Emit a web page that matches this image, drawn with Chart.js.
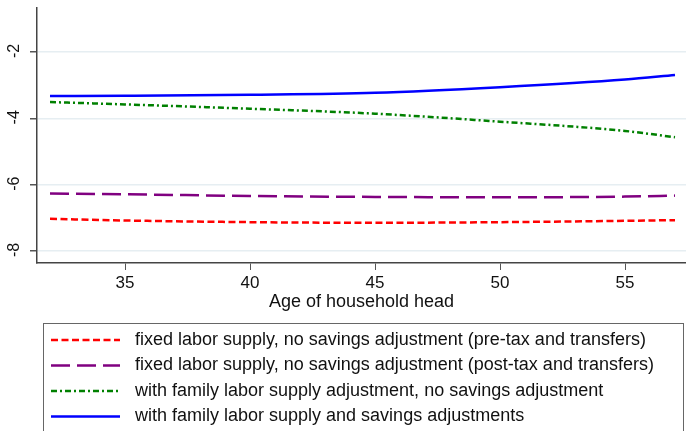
<!DOCTYPE html>
<html>
<head>
<meta charset="utf-8">
<script src="https://cdn.jsdelivr.net/npm/chart.js@4"></script>
<style>
  html, body { margin: 0; padding: 0; background: #fff; }
  #wrap { width: 686px; height: 431px; position: relative; }
</style>
</head>
<body>
<div id="wrap"><canvas id="chart" width="686" height="431"></canvas></div>
<script>
// ------------------------ Datos ------------------------
const edades = [32, 35, 40, 45, 50, 55, 57];
const preTax = [-7.03, -7.08, -7.13, -7.15, -7.13, -7.09, -7.07];
const postTax = [-6.27, -6.29, -6.34, -6.37, -6.38, -6.36, -6.33];
const laborAdj = [-3.51, -3.58, -3.71, -3.86, -4.10, -4.38, -4.57];
const laborSavAdj = [-3.33, -3.32, -3.29, -3.23, -3.06, -2.83, -2.69];

const etiquetas = [
  "fixed labor supply, no savings adjustment (pre-tax and transfers)",
  "fixed labor supply, no savings adjustment (post-tax and transfers)",
  "with family labor supply adjustment, no savings adjustment",
  "with family labor supply and savings adjustments"
];
const yTicks = [-2, -4, -6, -8];
const xTicks = [35, 40, 45, 50, 55];

const fuente = "'Liberation Sans', Arial, sans-serif";
const pts = (ys) => edades.map((x, i) => ({ x, y: ys[i] }));

const estilos = [
  { color: "#ff0000", dash: [7, 3.5] },
  { color: "#800080", dash: [19, 7] },
  { color: "#008000", dash: [6, 3, 2, 3] },
  { color: "#0000ff", dash: [] }
];

// ------------------------ Plugins ------------------------
// etiquetas del eje Y giradas (como en Stata)
const yLabels = {
  id: "yLabels",
  afterDraw(chart) {
    const s = chart.scales.y, ctx = chart.ctx;
    ctx.save();
    ctx.font = "16px " + fuente;
    ctx.fillStyle = "#111";
    ctx.textAlign = "center";
    ctx.textBaseline = "middle";
    s.ticks.forEach(t => {
      const y = s.getPixelForValue(t.value);
      ctx.save();
      ctx.translate(15, y - 1);
      ctx.rotate(-Math.PI / 2);
      ctx.fillText(String(t.value), 0, 0);
      ctx.restore();
    });
    ctx.restore();
  }
};

// leyenda con recuadro
const leyenda = {
  id: "leyenda",
  afterDraw(chart) {
    const ctx = chart.ctx;
    ctx.save();
    ctx.strokeStyle = "#666";
    ctx.lineWidth = 1;
    ctx.strokeRect(43.5, 323.5, 640, 130);
    ctx.font = "18px " + fuente;
    ctx.textBaseline = "middle";
    chart.data.datasets.forEach((d, i) => {
      const y = 340 + i * 25.5;
      ctx.beginPath();
      ctx.setLineDash(d.borderDash || []);
      ctx.strokeStyle = d.borderColor;
      ctx.lineWidth = 2.5;
      ctx.moveTo(51, y);
      ctx.lineTo(120, y);
      ctx.stroke();
      ctx.setLineDash([]);
      ctx.fillStyle = "#111";
      ctx.fillText(d.label, 135, y);
    });
    ctx.restore();
  }
};

// ------------------------ Gráfica ------------------------
new Chart(document.getElementById("chart"), {
  type: "line",
  data: {
    datasets: [preTax, postTax, laborAdj, laborSavAdj].map((serie, i) => ({
      label: etiquetas[i],
      data: pts(serie),
      borderColor: estilos[i].color,
      borderDash: estilos[i].dash,
      borderWidth: 2.5,
      pointRadius: 0,
      fill: false,
      cubicInterpolationMode: "monotone"
    }))
  },
  options: {
    responsive: false,
    animation: false,
    layout: { padding: { top: 8, right: 0, bottom: 108, left: 0 } },
    plugins: { legend: { display: false }, tooltip: { enabled: false } },
    scales: {
      x: {
        type: "linear",
        min: 31.48,
        max: 57.44,
        afterBuildTicks: s => { s.ticks = xTicks.map(v => ({ value: v })); },
        afterFit: s => { s.height = 60; },
        ticks: { color: "#111", font: { family: fuente, size: 17 }, padding: 3, maxRotation: 0 },
        grid: { drawOnChartArea: false, tickLength: 7, tickColor: "#555" },
        border: { color: "#444", width: 1.5 },
        title: {
          display: true,
          text: "Age of household head",
          color: "#111",
          font: { family: fuente, size: 18 },
          padding: { top: 0, bottom: 10 }
        }
      },
      y: {
        type: "linear",
        min: -8.362,
        max: -0.673,
        afterBuildTicks: s => { s.ticks = yTicks.map(v => ({ value: v })); },
        afterFit: s => { s.width = 37; },
        ticks: { display: false },
        grid: { color: "#e6eef2", lineWidth: 1.5, tickLength: 7, tickColor: "#555" },
        border: { color: "#444", width: 1.5 }
      }
    }
  },
  plugins: [yLabels, leyenda]
});
</script>
</body>
</html>
